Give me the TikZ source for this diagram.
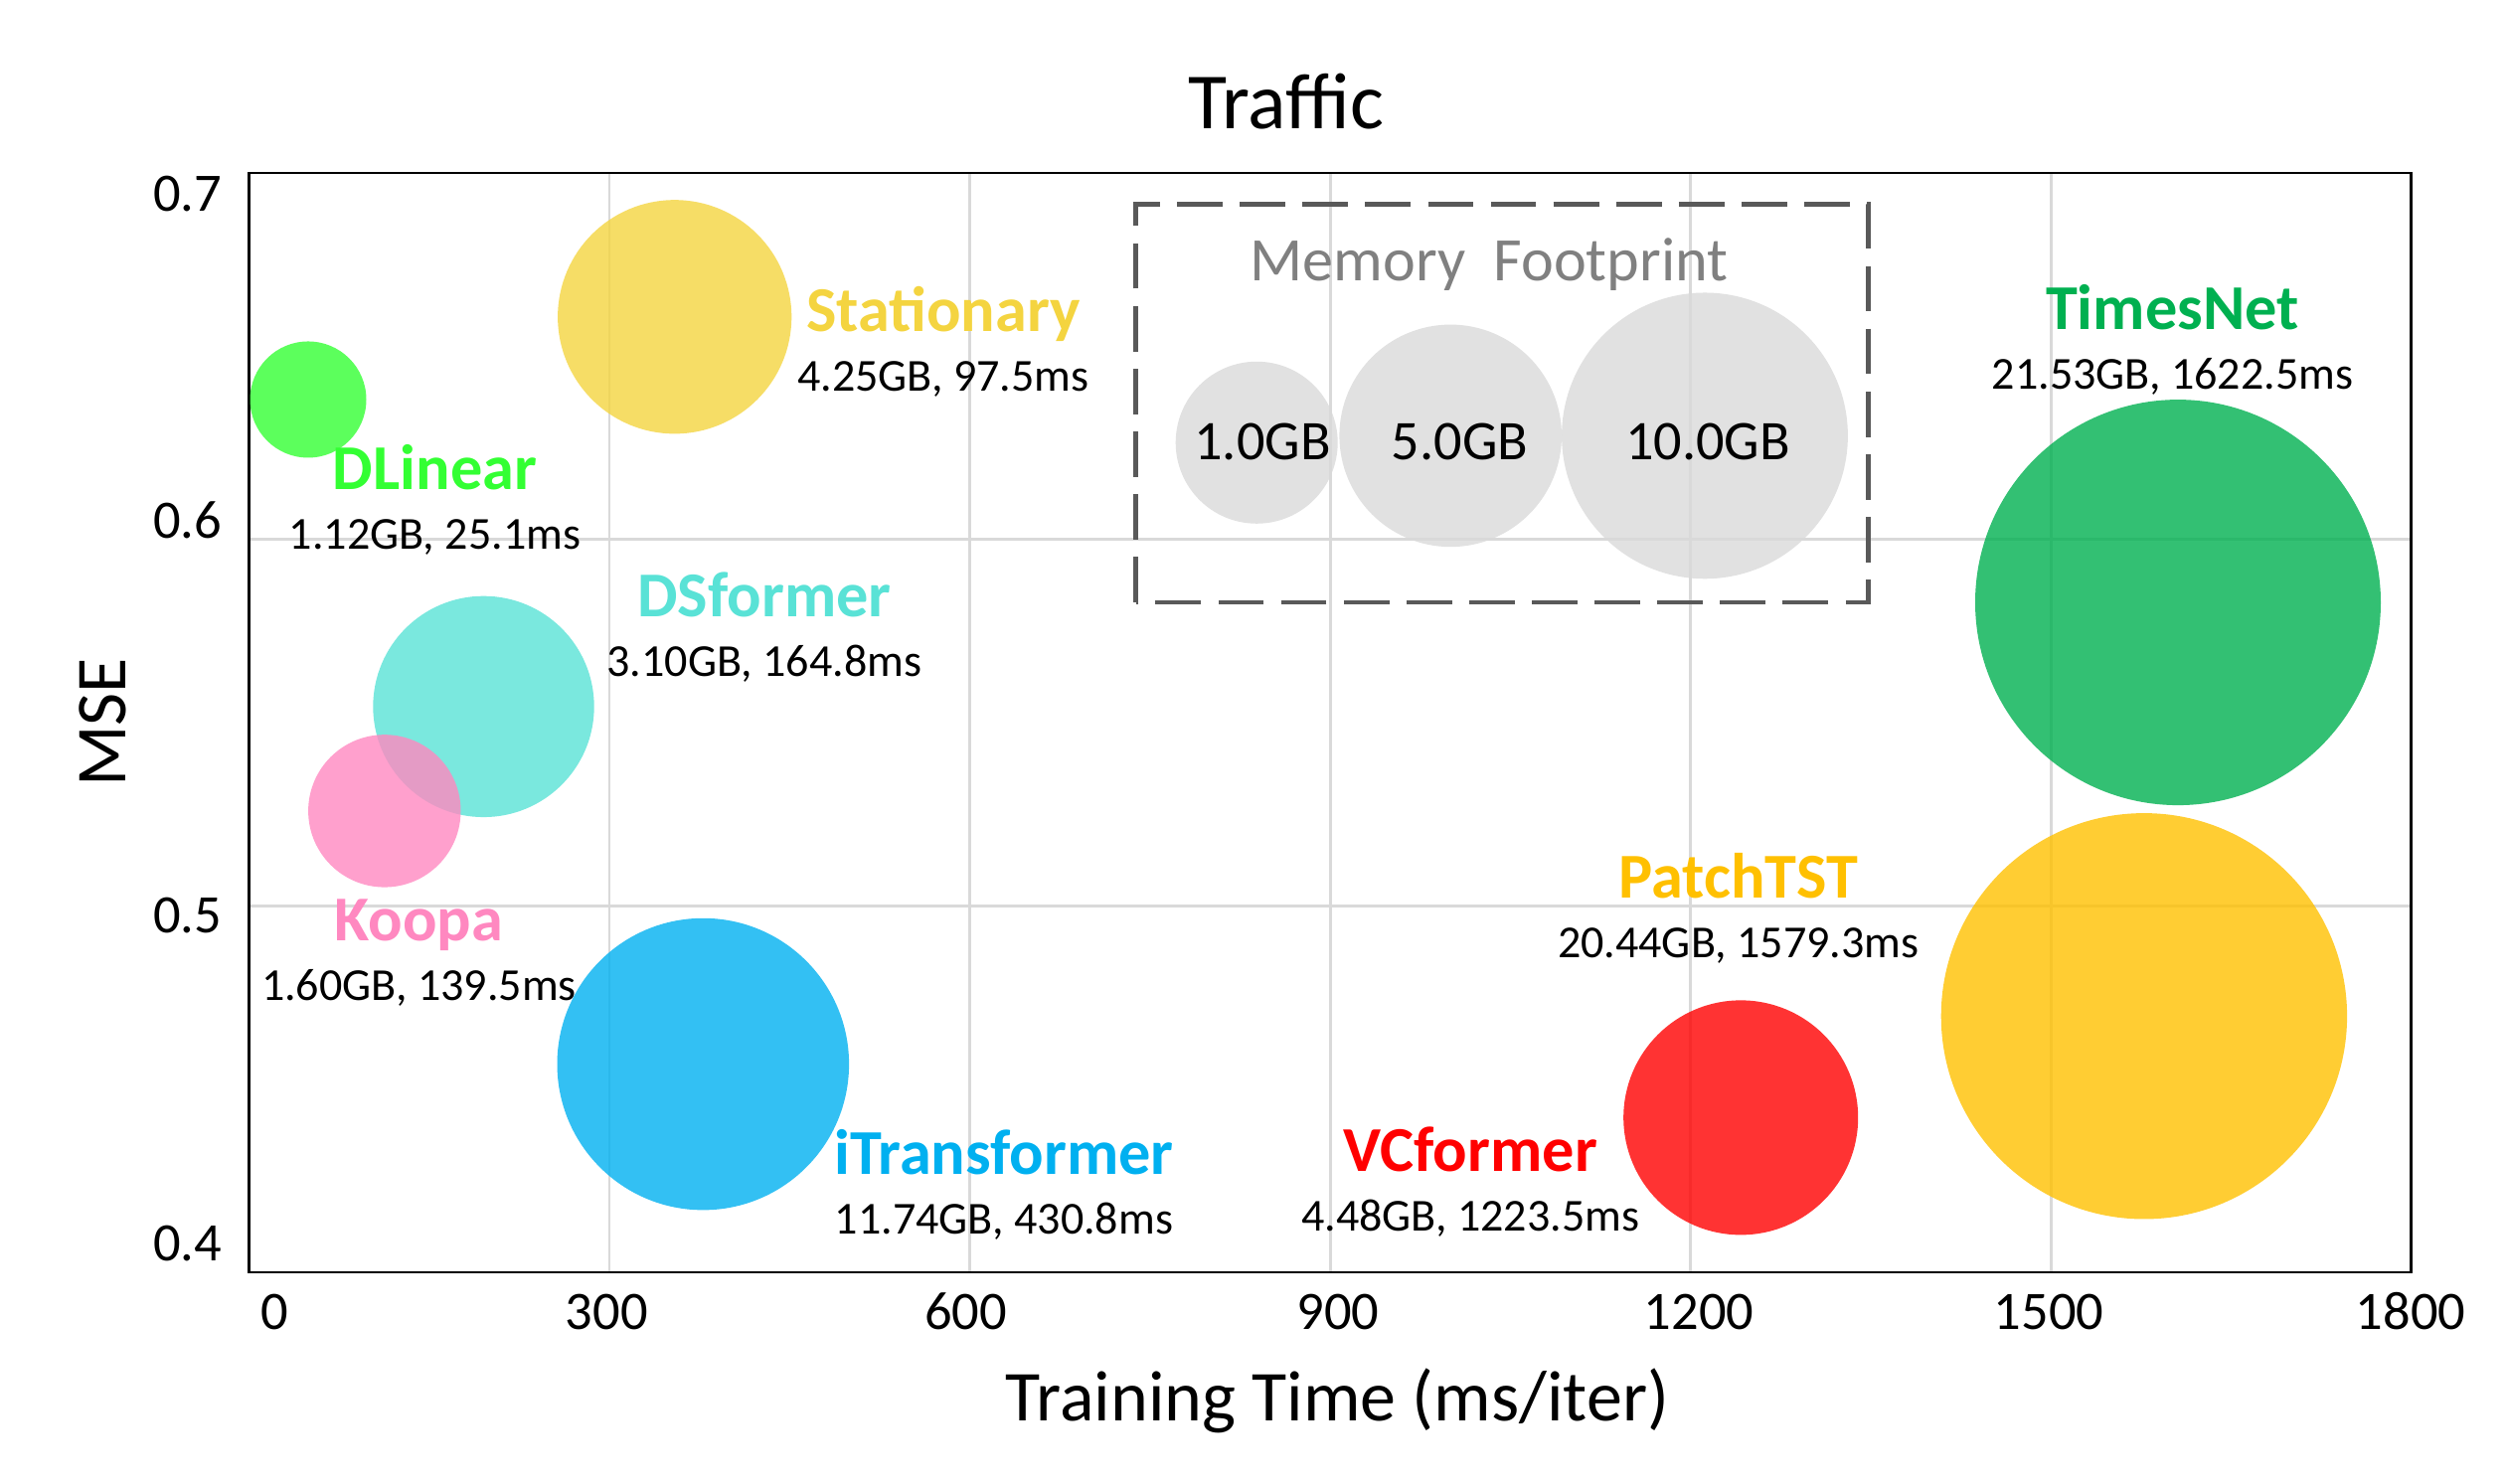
\documentclass[tikz,border=0pt]{standalone}
\usepackage{fontspec}
\setmainfont{Carlito}
\usepackage{tikz}
\usetikzlibrary{positioning}
\definecolor{dlineargreen}{RGB}{51,255,51}
\definecolor{stationaryyellow}{RGB}{244,212,64}
\definecolor{dsformercyan}{RGB}{89,226,214}
\definecolor{koopapink}{RGB}{255,136,192}
\definecolor{itransblue}{RGB}{0,176,240}
\definecolor{timesnetgreen}{RGB}{0,176,80}
\definecolor{patchtstorange}{RGB}{255,192,0}
\definecolor{vcformerred}{RGB}{255,0,0}
\definecolor{memgray}{RGB}{217,217,217}
\definecolor{gridgray}{RGB}{217,217,217}
\definecolor{boxgray}{RGB}{89,89,89}
\definecolor{titlegray}{RGB}{128,128,128}
\tikzset{bubble/.style={circle,inner sep=0,fill opacity=0.8},
    modelname/.style={font=\fontsize{18.3pt}{22pt}\selectfont\bfseries,inner sep=0,anchor=base},
    modelvalue/.style={font=\fontsize{13.1pt}{16pt}\selectfont,inner sep=0},
    ticklabel/.style={font=\fontsize{15.5pt}{18pt}\selectfont,inner sep=0},
    axistitle/.style={font=\fontsize{20.5pt}{24pt}\selectfont,inner sep=0},
    titletext/.style={font=\fontsize{22.8pt}{27pt}\selectfont,inner sep=0},
    gridline/.style={gridgray,line width=0.85pt},
    plotframe/.style={black,line width=0.8pt},
    membox/.style={boxgray,line width=1.4pt,dash pattern=on 0.458cm off 0.173cm},
    memtitle/.style={font=\fontsize{17.7pt}{21pt}\selectfont,text=titlegray,inner sep=0,anchor=base},
    memsize/.style={font=\fontsize{16pt}{19pt}\selectfont,inner sep=0,anchor=base}
}
\newcommand{\modelbubble}[7]
{
% args: (node name, centre, radius, colour, base of name label, name, memory and time)
    \node (#1) at (#2) [bubble,fill=#4,minimum size=2*#3cm] {};
    \node (#1name) at (#5) [modelname,text=#4] {#6};
    \node (#1value) [modelvalue,below=0.598cm of #1name.base,anchor=base] {#7};
}

\begin{document}
\begin{tikzpicture}

\useasboundingbox (0,0) rectangle (25.22,14.93);

% plot area
\coordinate (plotsw) at (2.505,2.13);
\coordinate (plotne) at (24.255,13.19);

\foreach \x in {6.130,9.755,13.38,17.005,20.63}
    \draw [gridline] (\x,2.13) -- (\x,13.19);
\foreach \y in {5.817,9.504}
    \draw [gridline] (2.505,\y) -- (24.255,\y);

\draw [plotframe] (plotsw) rectangle (plotne);

\foreach \lab/\yb [count=\i] in {0.7/12.803,0.6/9.515,0.5/5.548,0.4/2.248}
    \node (ytick\i) at (2.24,\yb) [ticklabel,anchor=base east] {\lab};
\foreach \lab/\xc in {0/2.766,300/6.104,600/9.715,900/13.458,1200/17.09,1500/20.61,1800/24.25}
    \node (xtick\lab) at (\xc,1.55) [ticklabel,anchor=base] {\lab};

\node (title) at (12.94,13.63) [titletext,anchor=base] {Traffic};
\node (xtitle) at (13.455,0.634) [axistitle,anchor=base] {Training Time (ms/iter)};
\node (ytitle) at (1.037,7.66) [axistitle,rotate=90] {MSE};

% models

\modelbubble{itrans}{7.073,4.224}{1.468}{itransblue}{10.10,3.114}{iTransformer}{11.74GB, 430.8ms}
\modelbubble{dsformer}{4.865,7.821}{1.112}{dsformercyan}{7.69,8.726}{DSformer}{3.10GB, 164.8ms}
\modelbubble{koopa}{3.868,6.771}{0.767}{koopapink}{4.214,5.467}{Koopa}{1.60GB, 139.5ms}
\modelbubble{dlinear}{3.10,10.91}{0.585}{dlineargreen}{4.375,10.003}{DLinear}{1.12GB, 25.1ms}
\modelbubble{stationary}{6.787,11.742}{1.176}{stationaryyellow}{9.49,11.597}{Stationary}{4.25GB, 97.5ms}
\modelbubble{vcformer}{17.512,3.686}{1.18}{vcformerred}{14.793,3.147}{VCformer}{4.48GB, 1223.5ms}
\modelbubble{timesnet}{21.91,8.869}{2.04}{timesnetgreen}{21.854,11.615}{TimesNet}{21.53GB, 1622.5ms}
\modelbubble{patchtst}{21.569,4.707}{2.042}{patchtstorange}{17.487,5.897}{PatchTST}{20.44GB, 1579.3ms}

% memory footprint legend

\draw [membox] (11.427,8.87) rectangle (18.794,12.873);
\node (memtitle) at (14.98,12.10) [memtitle] {Memory\ \ Footprint};

\foreach \mem/\pos/\r/\lab/\labpos in {one/{12.642,10.477}/0.815/1.0GB/{12.70,10.30},
    five/{14.592,10.546}/1.118/5.0GB/{14.685,10.30},
    ten/{17.15,10.546}/1.439/10.0GB/{17.18,10.30}}
{
    \node (\mem) at (\pos) [bubble,fill=memgray,minimum size=2*\r cm] {};
    \node (\mem label) at (\labpos) [memsize] {\lab};
}

\end{tikzpicture}
\end{document}
